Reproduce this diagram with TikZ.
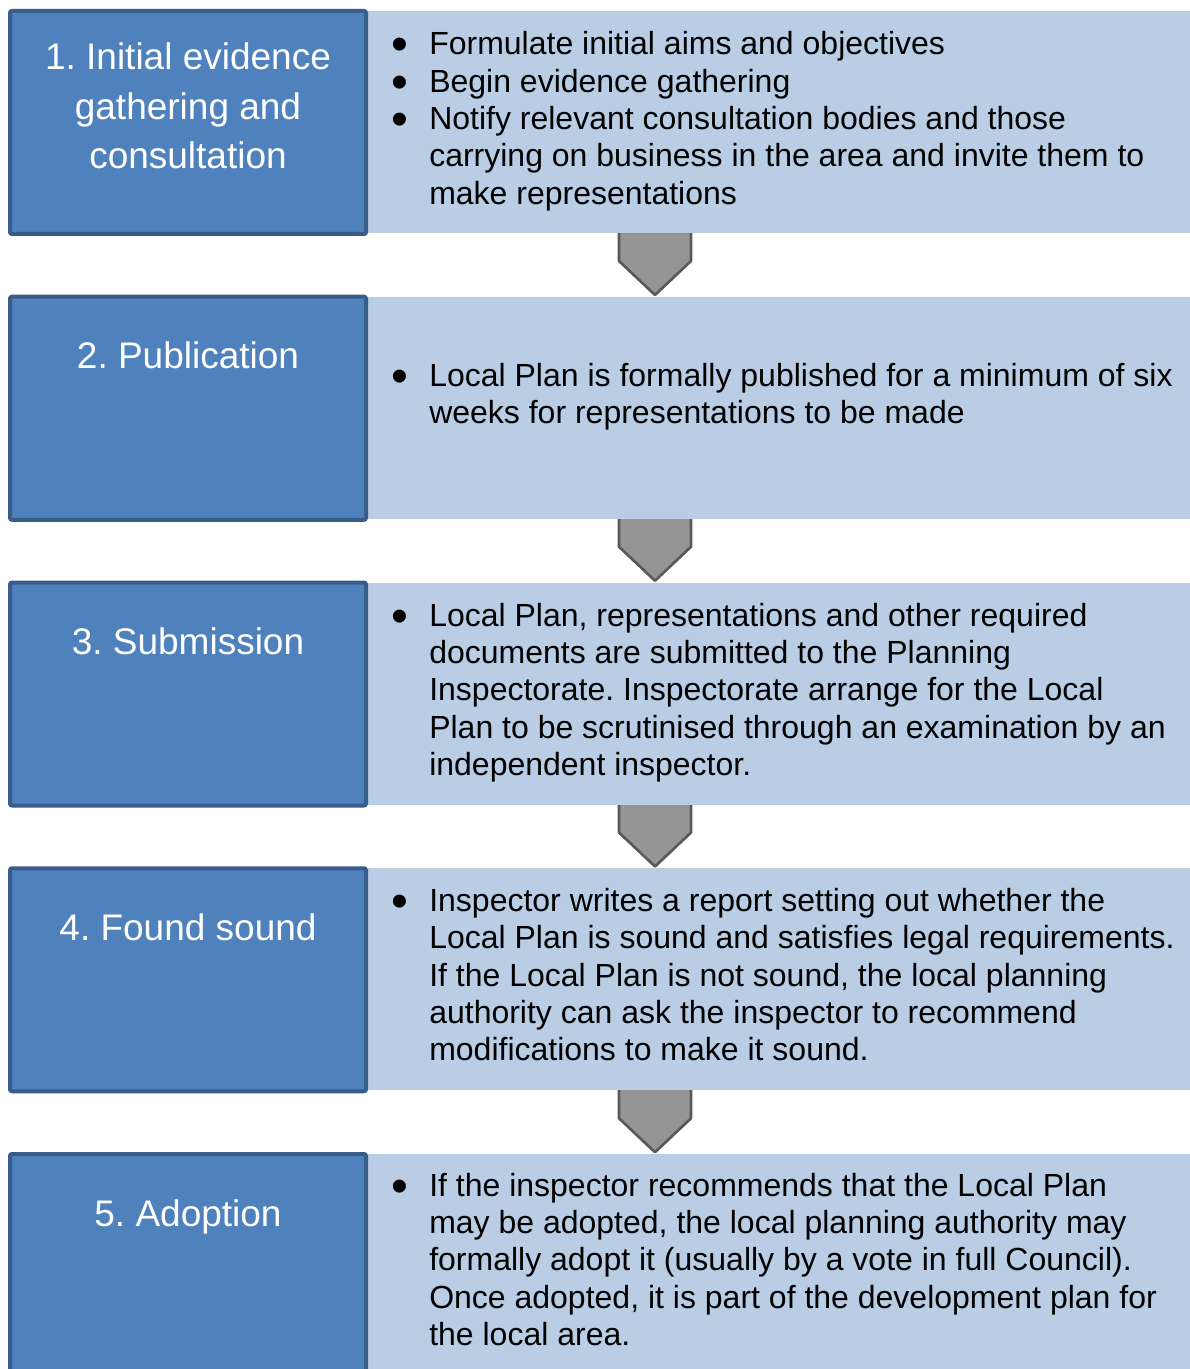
\documentclass[tikz,border=0pt]{standalone}
\usepackage{fontspec}
\setmainfont{Liberation Sans}
\frenchspacing
\definecolor{stepblue}{HTML}{4F81BD}
\definecolor{stepedge}{HTML}{385D8A}
\definecolor{detailblue}{HTML}{B9CDE5}
\definecolor{chevgrey}{HTML}{959595}
\definecolor{chevedge}{HTML}{595959}
\newcommand{\titlefont}{\fontsize{27.75}{37.1}\selectfont}
\newcommand{\detailfont}{\fontsize{24}{28}\selectfont}
\newcommand{\blob}{\raisebox{-4.5pt}[0pt][0pt]{\scalebox{1.5}{\textbullet}}}
\newenvironment{bullets}{\begin{tabular}[t]{@{}p{28.5pt}@{}l@{}}}{\end{tabular}}
\newenvironment{titlelines}{\begin{tabular}[t]{@{}c@{}}}{\end{tabular}}
\tikzset{
  stepbox/.style={draw=stepedge, line width=3pt, fill=stepblue, rounded corners=1.5pt,
    minimum width=267pt, minimum height=167.25pt, inner sep=0pt},
  detailbox/.style={fill=detailblue, minimum width=618pt, minimum height=166.5pt, inner sep=0pt},
  steptitle/.style={text=white, font=\titlefont, anchor=base, inner sep=0pt},
  detailtext/.style={font=\detailfont, anchor=base west, inner sep=0pt},
  chev/.style={fill=chevgrey, draw=chevedge, line width=2pt, line join=round}
}
\begin{document}
\begin{tikzpicture}[x=0.75pt, y=-0.75pt]
    \useasboundingbox (0,0) rectangle (1189,1369);
    % grey arrows go first, the boxes hide their tops
    \foreach \t in {9, 294.75, 580.5, 866.25}
        \draw[chev] (619,\t+220) -- (619,\t+252) -- (655,\t+286) -- (691,\t+252) -- (691,\t+220) -- cycle;

    \node[detailbox] (d1) at (780,122) {};
    \node[detailbox] (d2) at (780,407.75) {};
    \node[detailbox] (d3) at (780,693.5) {};
    \node[detailbox] (d4) at (780,979.25) {};
    \node[detailbox] (d5) at (780,1265) {};

    \node[stepbox] (s1) at (188,122.5) {};
    \node[stepbox] (s2) at (188,408.25) {};
    \node[stepbox] (s3) at (188,694) {};
    \node[stepbox] (s4) at (188,979.75) {};
    \node[stepbox] (s5) at (188,1265.5) {};

    \node[steptitle] (t1) at (188,70) {\begin{titlelines}1. Initial evidence\\gathering and\\consultation\end{titlelines}};
    \node[steptitle] (t2) at (188,368.75) {2. Publication};
    \node[steptitle] (t3) at (188,654.5) {3. Submission};
    \node[steptitle] (t4) at (188,940.25) {4. Found sound};
    \node[steptitle] (t5) at (188,1226) {5. Adoption};

    \node[detailtext] (p1) at (391,55) {\begin{bullets}
        \blob & Formulate initial aims and objectives\\
        \blob & Begin evidence gathering\\
        \blob & Notify relevant consultation bodies and those\\
        & carrying on business in the area and invite them to\\
        & make representations\end{bullets}};
    \node[detailtext] (p2) at (391,386.5) {\begin{bullets}
        \blob & Local Plan is formally published for a minimum of six\\
        & weeks for representations to be made\end{bullets}};
    \node[detailtext] (p3) at (391,626) {\begin{bullets}
        \blob & Local Plan, representations and other required\\
        & documents are submitted to the Planning\\
        & Inspectorate. Inspectorate arrange for the Local\\
        & Plan to be scrutinised through an examination by an\\
        & independent inspector.\end{bullets}};
    \node[detailtext] (p4) at (391,911.5) {\begin{bullets}
        \blob & Inspector writes a report setting out whether the\\
        & Local Plan is sound and satisfies legal requirements.\\
        & If the Local Plan is not sound, the local planning\\
        & authority can ask the inspector to recommend\\
        & modifications to make it sound.\end{bullets}};
    \node[detailtext] (p5) at (391,1196) {\begin{bullets}
        \blob & If the inspector recommends that the Local Plan\\
        & may be adopted, the local planning authority may\\
        & formally adopt it (usually by a vote in full Council).\\
        & Once adopted, it is part of the development plan for\\
        & the local area.\end{bullets}};
\end{tikzpicture}
\end{document}
